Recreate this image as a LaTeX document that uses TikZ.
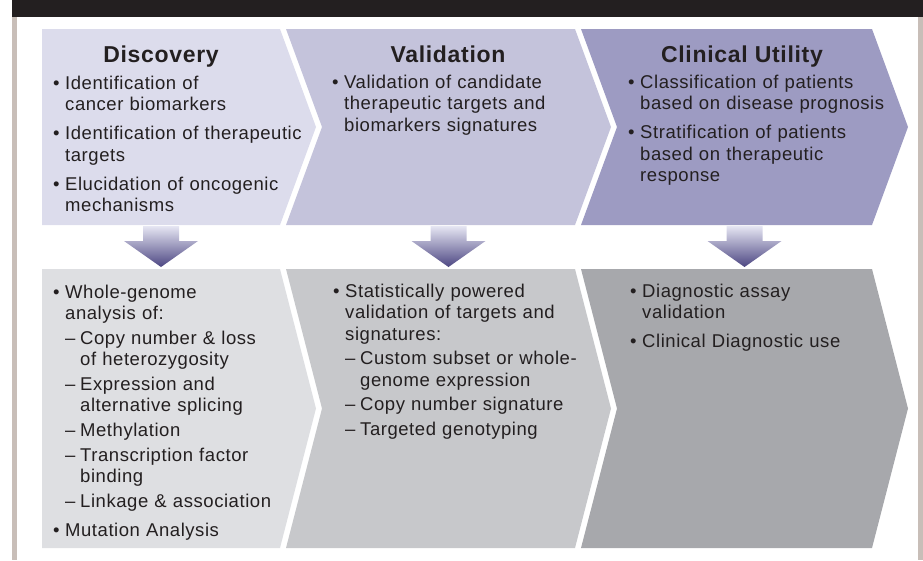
\documentclass[tikz,border=0pt]{standalone}
\usepackage{fontspec}
\setmainfont{Liberation Sans}[LetterSpace=3]
\usetikzlibrary{calc}

\definecolor{ink}{RGB}{35,31,32}
\definecolor{framegrey}{RGB}{200,190,184}
\definecolor{discTop}{RGB}{220,220,236}
\definecolor{valTop}{RGB}{196,195,219}
\definecolor{clinTop}{RGB}{157,155,194}
\definecolor{discBot}{RGB}{222,223,226}
\definecolor{valBot}{RGB}{199,200,203}
\definecolor{clinBot}{RGB}{167,168,172}
\definecolor{arrowLight}{RGB}{230,230,243}
\definecolor{arrowDark}{RGB}{76,70,130}

% list items: first bullet, next bullet, dash sub-item
\newcommand\firstbul{\noindent\hangindent=12pt\hangafter=1\makebox[12pt][l]{\textbullet}}
\newcommand\bul{\par\vspace{7.5pt}\firstbul}
\newcommand\dsh{\par\vspace{3.2pt}\noindent\hangindent=27pt\hangafter=1\hspace*{12pt}\makebox[15pt][l]{\textendash}}

\begin{document}
\begin{tikzpicture}[x=1pt,y=-1pt,
  head/.style={font=\fontsize{23}{26}\selectfont\bfseries, text=ink, inner sep=0pt, anchor=base},
  body/.style={font=\fontsize{18.5}{21.5}\selectfont, text=ink, inner sep=0pt, anchor=base west, text width=280pt},
  arrowshade/.style={top color=arrowLight, bottom color=arrowDark}]

\useasboundingbox (0,0) rectangle (923,560);

% --- frame ---
\fill[ink] (12,0) rectangle (923,17);
\fill[framegrey] (12,17) rectangle (17,560);
\fill[framegrey] (918,17) rectangle (923,560);

% --- upper chevrons ---
\foreach \xl/\xr/\nd/\col/\nm in {42/280/0/discTop/disc, 286/575/36/valTop/val, 581/872/36/clinTop/clin} {
  \fill[\col] (\xl,29) -- (\xr,29) -- (\xr+36,127) -- (\xr,225) -- (\xl,225) -- (\xl+\nd,127) -- cycle;
  \coordinate (\nm-s) at ({(\xl+\nd+\xr)/2},225);
}

% --- lower chevrons ---
\foreach \xl/\xr/\nd/\col/\nm in {42/280/0/discBot/disc, 286/575/36/valBot/val, 581/872/36/clinBot/clin} {
  \fill[\col] (\xl,269) -- (\xr,269) -- (\xr+36,408.5) -- (\xr,548) -- (\xl,548) -- (\xl+\nd,408.5) -- cycle;
  \coordinate (\nm-n) at ({(\xl+\nd+\xr)/2},269);
}

% --- down arrows ---
\foreach \nm in {disc,val,clin}
  \shade[arrowshade] ($(\nm-s)+(-18,1)$) -- ($(\nm-s)+(18,1)$) -- ($(\nm-s)+(18,16)$)
    -- ($(\nm-s)+(37,16)$) -- ($(\nm-n)+(0,-2)$) -- ($(\nm-s)+(-37,16)$)
    -- ($(\nm-s)+(-18,16)$) -- cycle;

% --- headings ---
\node[head] (discHead) at (161,62) {Discovery};
\node[head] (valHead) at (448,62) {Validation};
\node[head] (clinHead) at (742,62) {Clinical Utility};

% --- upper texts ---
\node[body] (discTxt) at (53,89) {\firstbul Identification of\newline cancer biomarkers
  \bul Identification of therapeutic\newline targets
  \bul Elucidation of oncogenic\newline mechanisms\par};
\node[body] (valTxt) at (332,88) {\firstbul Validation of candidate\newline therapeutic targets and\newline biomarkers signatures\par};
\node[body] (clinTxt) at (628,88) {\firstbul Classification of patients\newline based on disease prognosis
  \bul Stratification of patients\newline based on therapeutic\newline response\par};

% --- lower texts ---
\node[body] (discBTxt) at (53,298) {\firstbul Whole-genome\newline analysis of:
  \dsh Copy number \& loss\newline of heterozygosity
  \dsh Expression and\newline alternative splicing
  \dsh Methylation
  \dsh Transcription factor\newline binding
  \dsh Linkage \& association
  \bul Mutation Analysis\par};
\node[body] (valBTxt) at (333,297) {\firstbul Statistically powered\newline validation of targets and\newline signatures:
  \dsh Custom subset or whole-\newline genome expression
  \dsh Copy number signature
  \dsh Targeted genotyping\par};
\node[body] (clinBTxt) at (630,297) {\firstbul Diagnostic assay\newline validation
  \bul Clinical Diagnostic use\par};

\end{tikzpicture}
\end{document}
